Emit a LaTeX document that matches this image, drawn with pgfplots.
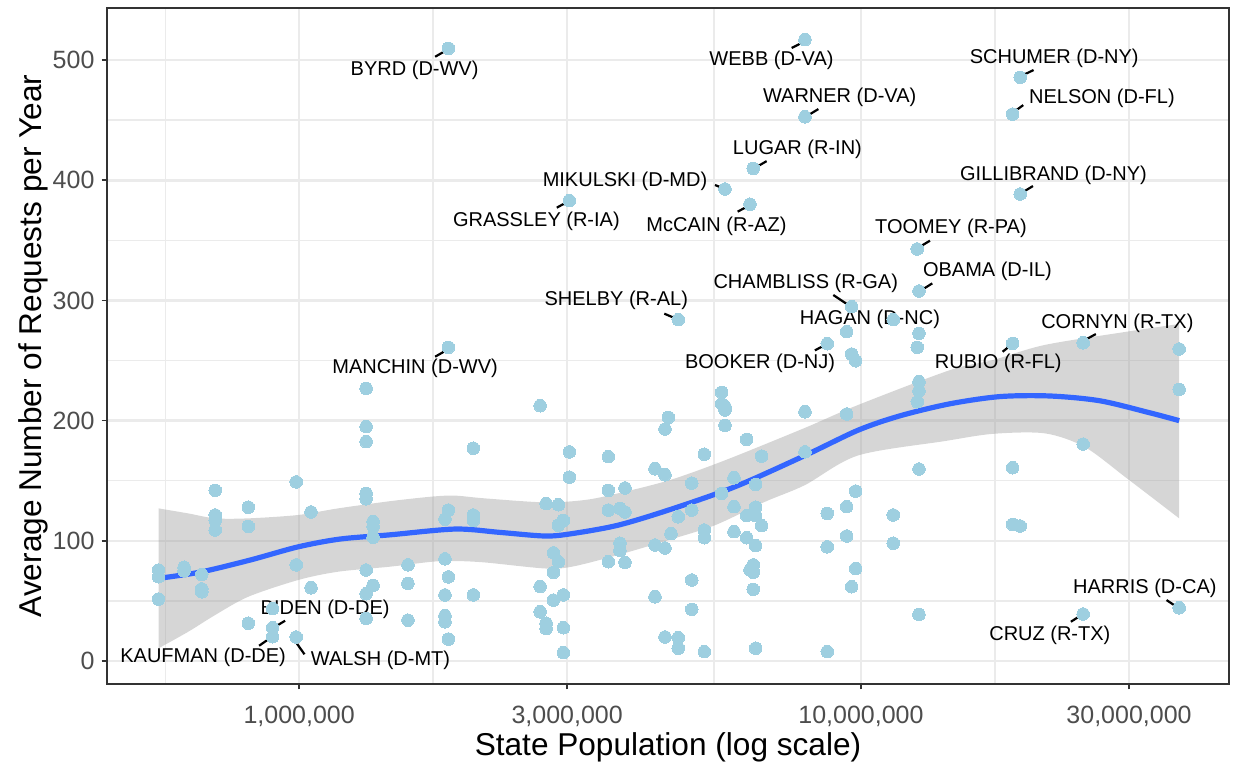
\documentclass[border=0pt]{standalone}
\usepackage{fontspec}
\setmainfont{Liberation Sans}
\usepackage{pgfplots}
\usepackage{pgfplotstable}
\pgfplotsset{compat=1.18}
\usepgfplotslibrary{fillbetween}
\definecolor{ptcol}{RGB}{158,207,224}
\definecolor{gridcol}{RGB}{235,235,235}
\definecolor{framecol}{RGB}{51,51,51}
\definecolor{tickcol}{RGB}{77,77,77}
\definecolor{bandcol}{RGB}{153,153,153}
\definecolor{linecol}{RGB}{51,102,255}
\newcommand{\labfont}{\fontsize{10}{12}\selectfont}
\newcommand{\tickfont}{\fontsize{12.5}{14}\selectfont}
\newcommand{\titlefont}{\fontsize{15.8}{18}\selectfont}

\pgfplotstableread{
pop val
562000 75.7
562000 70.1
562000 51.6
624000 78
624000 75
671000 72
671000 60
671000 57.6
709000 142
709000 121.5
709000 117
709000 109
812000 128
812000 112
812000 31.4
897000 43.7
897000 27.7
897000 20.2
988000 149
988000 80
988000 20
1050000 124
1050000 61
1316000 226.8
1316000 195
1316000 182.5
1316000 139.5
1316000 135
1316000 75.7
1316000 56
1316000 35.5
1354000 116
1354000 112
1354000 103
1354000 63
1562000 80
1562000 64.6
1562000 34
1818000 118
1818000 85
1818000 55
1818000 37.7
1818000 32.7
1844000 509.7
1844000 261
1844000 125.6
1844000 70
1844000 18.3
2042000 177
2042000 121.5
2042000 117
2042000 55
2685000 212.4
2685000 62
2685000 41
2752000 131
2752000 31.4
2752000 27
2836000 90
2836000 73.8
2836000 50.7
2894000 130
2894000 113
2894000 82.6
2954000 117
2954000 55
2954000 27.7
2954000 7
3027000 383
3027000 174
3027000 153
3551000 170
3551000 142
3551000 125.6
3551000 82.6
3725000 127
3725000 98
3725000 92
3802000 144
3802000 124
3802000 82
4300000 160
4300000 96.5
4300000 53.5
4479000 193
4479000 155
4479000 94
4479000 20
4541000 202.7
4591000 106
4730000 284
4730000 120
4730000 19.4
4730000 10.6
4998000 148
4998000 125.6
4998000 67.4
4998000 43
5263000 172
5263000 109
5263000 102.6
5263000 7.8
5650000 223.5
5650000 214
5650000 139.5
5728000 392.7
5728000 211.6
5728000 208.8
5728000 196
5943000 152.5
5943000 128.4
5943000 107.6
6259000 184.4
6259000 121
6259000 102.6
6345000 380
6345000 75.7
6431000 409.8
6431000 80
6431000 73.8
6431000 59.6
6494000 147
6494000 128
6494000 121
6494000 96
6494000 10.6
6656000 170.5
6656000 112.6
7951000 517
7951000 452.8
7951000 207.4
7951000 174
8710000 264
8710000 122.8
8710000 95
8710000 7.8
9432000 274
9432000 205.5
9432000 128.4
9432000 104
9627000 294.8
9627000 255.4
9627000 61.8
9786000 249.8
9786000 141.4
9786000 77
11416000 284
11416000 121.5
11416000 98
12596000 342.8
12596000 261
12596000 215.7
12684000 307.8
12684000 272.6
12684000 232.4
12684000 224.9
12684000 159.7
12684000 38.8
18621000 455
18621000 264.3
18621000 160.8
18621000 113.7
19210000 485.6
19210000 388.5
19210000 112.3
24860000 264.8
24860000 180.5
24860000 39.1
36850000 259.6
36850000 226
36850000 44.3
}\pts

\pgfplotstableread{
pop val
562000 127
635000 122.8
709000 118.7
812000 118.7
996000 121.5
1173000 127
1452000 133
1724000 136.8
1895000 137.6
2143000 135.3
2740000 132
3228000 134
3695000 139.5
4572000 150.6
5728000 167
7951000 194
9879000 213
14399000 242
17177000 250.4
21255000 263
29740000 274
36850000 280.4
}\bandup

\pgfplotstableread{
pop val
562000 10.6
635000 24.4
709000 38.3
812000 53.5
996000 67.4
1173000 74.3
1452000 78.5
1724000 82.6
1895000 83.2
2143000 82
2740000 77
3060000 78.5
3695000 88.2
4572000 101
5499000 113
6750000 132.5
7951000 146.4
9879000 171
14108000 183
17177000 189
21255000 189.4
25030000 178
29740000 152
36850000 118.7
}\bandlo

\pgfplotstableread{
pop val
562000 68.8
667000 74
818000 84
996000 95
1183000 101.5
1452000 105
1895000 109.8
2279000 107
2740000 104
3060000 106
3695000 113
4572000 126
5968000 145
7951000 171
9879000 192
11734000 204
14399000 214
17676000 220
21695000 220.5
26630000 216.5
32680000 206.5
36850000 200
}\loess

\newcommand{\lab}[5]{\node[font=\labfont, inner sep=0pt, anchor=center] at ([shift={(#3pt,#4pt)}]axis cs:#1,#2) {#5};}
\newcommand{\seg}[6]{\draw[black, line width=1.1pt] ([shift={(#3pt,#4pt)}]axis cs:#1,#2) -- ([shift={(#5pt,#6pt)}]axis cs:#1,#2);}

\begin{document}
\begin{tikzpicture}
\begin{axis}[
  scale only axis, width=561pt, height=338pt,
  xmode=log, xmin=455000, xmax=45200000, ymin=-19.1, ymax=543.3,
  xtick={1000000,3000000,10000000,30000000},
  xticklabels={{1,000,000},{3,000,000},{10,000,000},{30,000,000}},
  minor xtick={577500,1732000,5477000,17320000},
  ytick={0,100,200,300,400,500},
  minor ytick={50,150,250,350,450},
  grid=both,
  major grid style={gridcol, line width=1.3pt},
  minor grid style={gridcol, line width=0.65pt},
  axis line style={framecol, line width=0.75pt},
  tick pos=left, tick align=outside,
  major tick length=2.75pt, minor tick length=0pt,
  tick style={framecol, line width=0.75pt},
  /pgf/number format/assume math mode=true,
  ticklabel style={font=\tickfont, text=tickcol},
  xticklabel style={yshift=-4.5pt},
  xlabel={State Population (log scale)},
  ylabel={Average Number of Requests per Year},
  label style={font=\titlefont, text=black},
  xlabel style={at={(axis description cs:0.5,-0.0932)}, anchor=center},
  ylabel style={at={(axis description cs:-0.066,0.5)}, anchor=center},
]
\addplot[only marks, mark=*, mark size=3.15pt, mark options={draw=ptcol, fill=ptcol, line width=0pt}] table[x=pop,y=val] {\pts};
\addplot[name path=up, draw=none, smooth] table[x=pop,y=val] {\bandup};
\addplot[name path=lo, draw=none, smooth] table[x=pop,y=val] {\bandlo};
\addplot[fill=bandcol, fill opacity=0.4, draw=none] fill between[of=up and lo];
\addplot[linecol, line width=2.6pt, smooth] table[x=pop,y=val] {\loess};

\seg{1844000}{509.7}{-0.8}{-0.85}{-6.65}{-4.2}
\lab{1844000}{509.7}{-16.9}{-10.85}{BYRD (D-WV)}
\seg{1844000}{261}{-0.8}{-1.35}{-6.65}{-4.7}
\lab{1844000}{261}{-16.65}{-10.5}{MANCHIN (D-WV)}
\seg{7951000}{517}{-1.35}{-1.5}{-6.65}{-4.2}
\lab{7951000}{517}{-16.75}{-10.35}{WEBB (D-VA)}
\seg{7951000}{452.8}{1.2}{0.5}{6.7}{3.85}
\lab{7951000}{452.8}{17.35}{9.5}{WARNER (D-VA)}
\seg{19210000}{485.6}{0.5}{0.65}{6.65}{3.65}
\lab{19210000}{485.6}{17}{9.5}{SCHUMER (D-NY)}
\seg{18621000}{455}{0.3}{0.85}{5.3}{4.5}
\lab{18621000}{455}{44.65}{7.85}{NELSON (D-FL)}
\seg{6431000}{409.8}{1.2}{0.5}{6.7}{3.65}
\lab{6431000}{409.8}{22.1}{9.65}{LUGAR (R-IN)}
\seg{5728000}{392.7}{-0.85}{0.35}{-5}{2}
\lab{5728000}{392.7}{-50}{4}{MIKULSKI (D-MD)}
\seg{19210000}{388.5}{0.85}{0.65}{6.35}{4}
\lab{19210000}{388.5}{16.65}{9.5}{GILLIBRAND (D-NY)}
\seg{3027000}{383}{-0.8}{-0.5}{-6.3}{-3.5}
\lab{3027000}{383}{-16.5}{-10.5}{GRASSLEY (R-IA)}
\seg{6345000}{380}{-0.85}{-0.85}{-6.15}{-3.7}
\lab{6345000}{380}{-16.75}{-10.85}{McCAIN (R-AZ)}
\seg{12596000}{342.8}{1.35}{1.15}{6.35}{4.15}
\lab{12596000}{342.8}{16.85}{10.5}{TOOMEY (R-PA)}
\seg{12684000}{307.8}{1.35}{0.5}{6.65}{3.85}
\lab{12684000}{307.8}{34.25}{9.65}{OBAMA (D-IL)}
\seg{9627000}{294.8}{-1.7}{0.85}{-9.2}{5.85}
\lab{9627000}{294.8}{-22.95}{11.7}{CHAMBLISS (R-GA)}
\seg{4730000}{284}{-1.15}{0.5}{-7}{3}
\lab{4730000}{284}{-31}{9.65}{SHELBY (R-AL)}
\lab{11416000}{284}{-11.65}{0}{HAGAN (D-NC)}
\seg{8710000}{264}{-0.85}{-0.5}{-6.2}{-3.35}
\lab{8710000}{264}{-33.6}{-10}{BOOKER (D-NJ)}
\seg{24860000}{264.8}{0.85}{1.35}{6.35}{4.35}
\lab{24860000}{264.8}{17.1}{9.7}{CORNYN (R-TX)}
\seg{18621000}{264.3}{-0.8}{-0.85}{-5}{-4.2}
\lab{18621000}{264.3}{-7.15}{-10}{RUBIO (R-FL)}
\seg{897000}{27.7}{1.25}{0.5}{6.25}{3.5}
\lab{897000}{27.7}{26.25}{9.2}{BIDEN (D-DE)}
\seg{897000}{20.2}{-1.25}{-0.65}{-6.75}{-4.5}
\lab{897000}{20.2}{-34.75}{-10.5}{KAUFMAN (D-DE)}
\seg{988000}{20}{0.35}{-3.3}{4.15}{-8.65}
\lab{988000}{20}{42.15}{-11.65}{WALSH (D-MT)}
\seg{24860000}{39.1}{-0.8}{-0.5}{-6.15}{-3.85}
\lab{24860000}{39.1}{-16.65}{-10.5}{CRUZ (R-TX)}
\seg{36850000}{44.3}{-1.3}{0.5}{-6.3}{3.85}
\lab{36850000}{44.3}{-17.15}{9.7}{HARRIS (D-CA)}
\end{axis}
\pgfresetboundingbox
\useasboundingbox (-53.5pt,-39.5pt) rectangle (564pt,342pt);
\end{tikzpicture}
\end{document}
